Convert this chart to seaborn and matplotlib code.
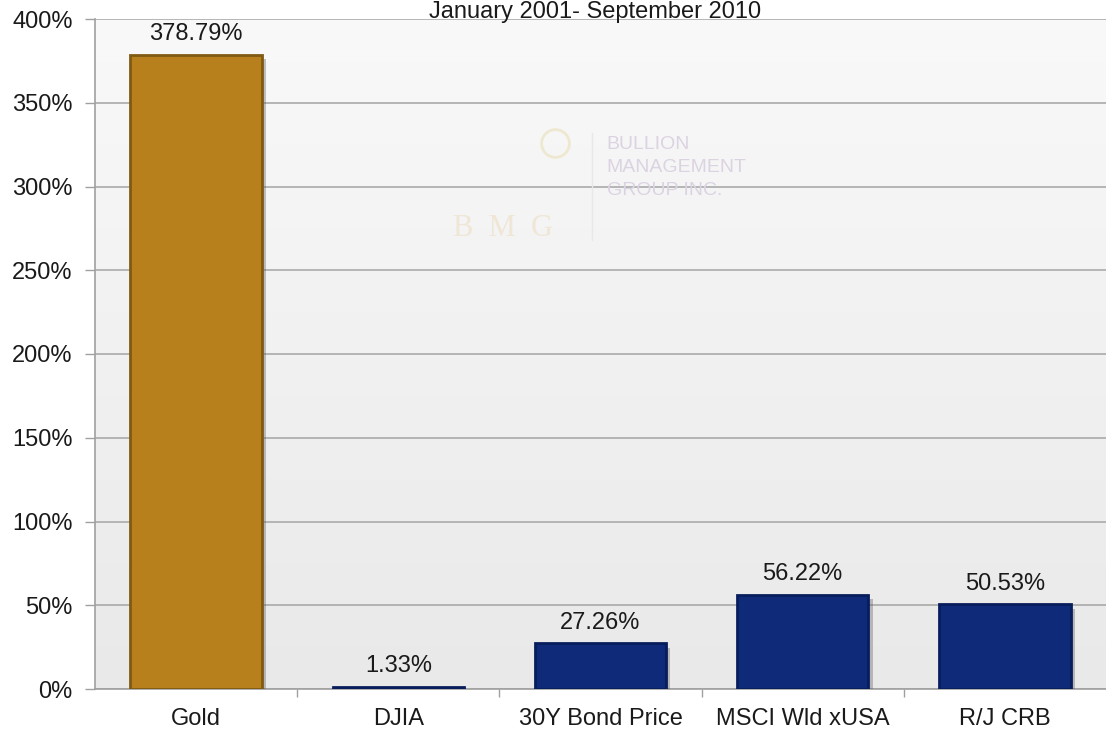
import numpy as np
import pandas as pd
import matplotlib
matplotlib.use("Agg")
import matplotlib.pyplot as plt
import matplotlib.patheffects as pe
from matplotlib.colors import LinearSegmentedColormap
import seaborn as sns

categories = ["Gold", "DJIA", "30Y Bond Price", "MSCI Wld xUSA", "R/J CRB"]
values = [378.79, 1.33, 27.26, 56.22, 50.53]
labels = ["378.79%", "1.33%", "27.26%", "56.22%", "50.53%"]
colors = ["#B7801C", "#0E2A78", "#0E2A78", "#0E2A78", "#0E2A78"]
edge_colors = ["#7F5A12", "#081E5C", "#081E5C", "#081E5C", "#081E5C"]
yticks = [0, 50, 100, 150, 200, 250, 300, 350, 400]
title = "January 2001- September 2010"

sns.set_theme(style="white")
plt.rcParams["font.family"] = ["Liberation Sans", "DejaVu Sans"]

fig = plt.figure(figsize=(11.06, 7.36), dpi=100)
fig.patch.set_facecolor("white")
ax = fig.add_axes([95 / 1106, 1 - 689 / 736, 1 - 95 / 1106, (689 - 19) / 736])

# gradient background for plot area
grad = np.linspace(0, 1, 256).reshape(-1, 1)
cmap = LinearSegmentedColormap.from_list("bg", ["#e9e9e9", "#f9f9f9"])
ax.imshow(grad, aspect="auto", cmap=cmap, origin="lower",
          extent=[0, 1, 0, 1], transform=ax.transAxes, zorder=0)

df = pd.DataFrame({"cat": categories, "val": values})
sns.barplot(data=df, x="cat", y="val", hue="cat", palette=colors, legend=False,
            width=0.65, ax=ax, zorder=3, saturation=1)

for p, ec in zip(ax.patches, edge_colors):
    p.set_edgecolor(ec)
    p.set_linewidth(2.0)
    p.set_path_effects([pe.SimplePatchShadow(offset=(3, -3), shadow_rgbFace="#555555", alpha=0.35),
                        pe.Normal()])

for p, lab in zip(ax.patches, labels):
    x = p.get_x() + p.get_width() / 2
    ax.annotate(lab, (x, p.get_height()), xytext=(0, 7), textcoords="offset points",
                ha="center", va="bottom", fontsize=17, color="#1a1a1a", zorder=5)

ax.set_ylim(0, 400)
ax.set_xlim(-0.5, len(categories) - 0.5)
ax.set_yticks(yticks)
ax.set_yticklabels([f"{t}%" for t in yticks], fontsize=17, color="#1a1a1a")
ax.set_xticks(range(len(categories)))
ax.set_xticklabels(categories, fontsize=17, color="#1a1a1a")
ax.tick_params(axis="x", length=0, pad=14)
ax.tick_params(axis="y", length=7, width=1, color="#a0a0a0", left=True, pad=9)
ax.set_xticks(np.arange(0.5, len(categories) - 0.5, 1), minor=True)
ax.tick_params(axis="x", which="minor", length=6, width=1, color="#a0a0a0", bottom=True)
ax.yaxis.grid(True, color="#aaaaaa", linewidth=1.2, zorder=1)
ax.set_axisbelow(True)
ax.set_xlabel("")
ax.set_ylabel("")
for s in ["top", "right"]:
    ax.spines[s].set_visible(False)
for s in ["left", "bottom"]:
    ax.spines[s].set_color("#a0a0a0")
    ax.spines[s].set_linewidth(1.2)

# watermark
ax.text(0.506, 0.778, "BULLION\nMANAGEMENT\nGROUP INC.", transform=ax.transAxes,
        fontsize=14, color="#dcd3e2", ha="left", va="center", linespacing=1.45, zorder=2)
ax.text(0.404, 0.688, "B  M  G", transform=ax.transAxes, fontsize=22,
        family="Liberation Serif", color="#efe6d6", ha="center", va="center", zorder=2)
ax.plot([0.492, 0.492], [0.67, 0.83], transform=ax.transAxes, color="#eae6ea",
        linewidth=1, zorder=2)
ax.plot([0.455], [0.815], transform=ax.transAxes, marker="o", markersize=20,
        markerfacecolor="none", markeredgecolor="#efe8d0", markeredgewidth=2, zorder=2)

fig.text(595 / 1106, 1 - 1 / 736, title, ha="center", va="top",
         fontsize=17, color="#1a1a1a")

fig.savefig("out.png", dpi=100)
